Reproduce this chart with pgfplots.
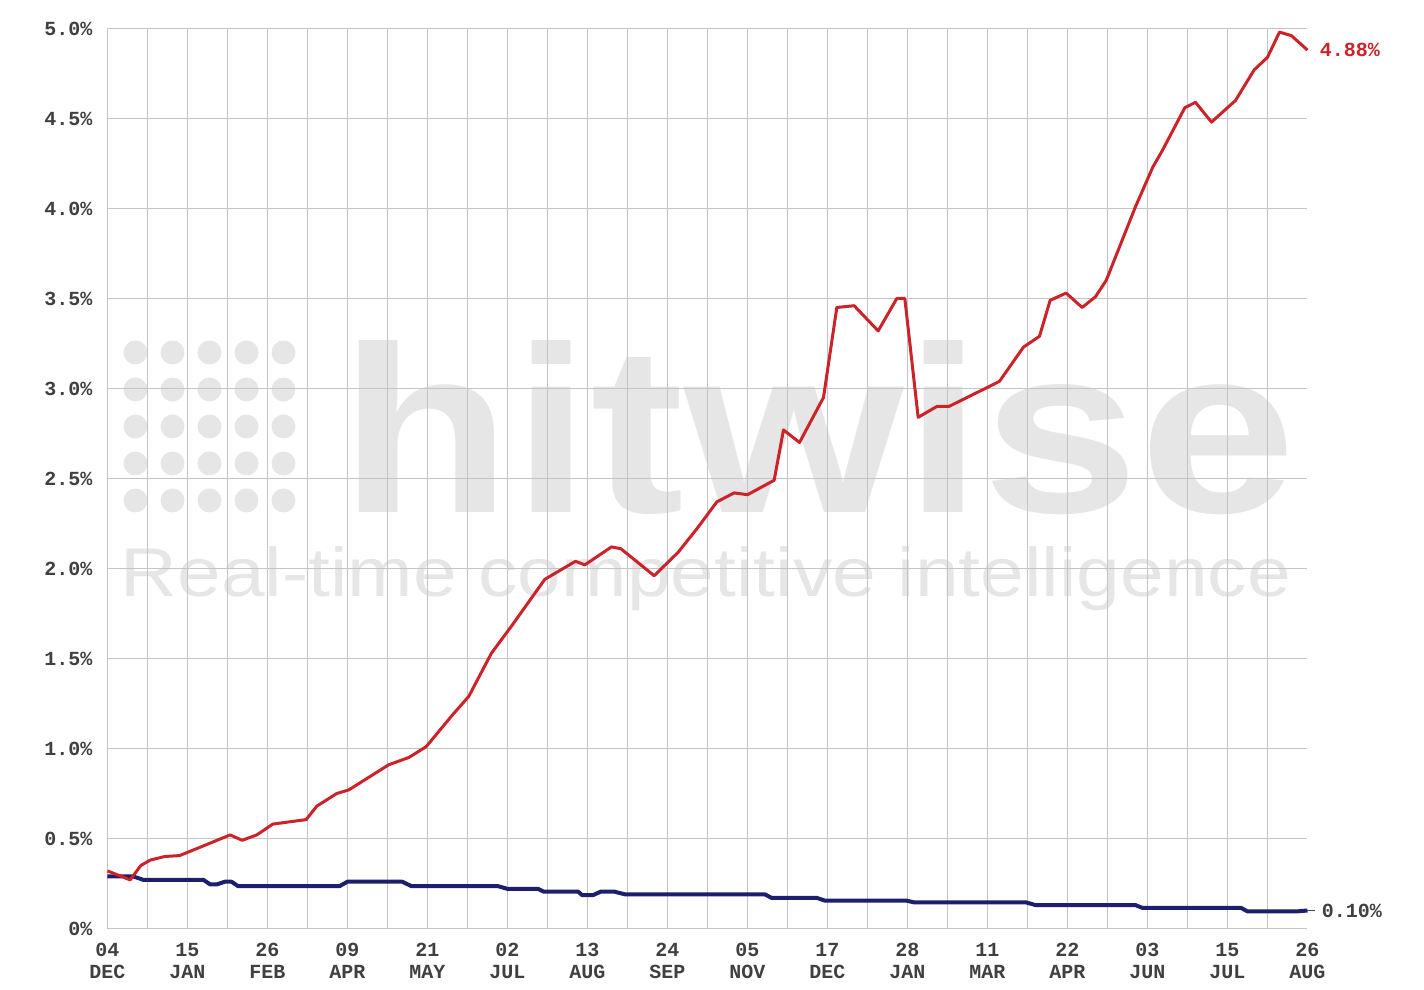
\documentclass[border=0pt]{standalone}
\usepackage{pgfplots}
\pgfplotsset{compat=1.18}
\usepackage{fontspec}
\setmonofont{Liberation Mono}
\newfontfamily\wmfont{Liberation Sans}
\definecolor{hwred}{HTML}{CC2229}
\definecolor{hwblue}{HTML}{1E1E6E}
\definecolor{hwgrid}{HTML}{C4C4C4}
\definecolor{hwmark}{HTML}{E6E6E6}
\begin{document}
\begin{tikzpicture}
% watermark (axis south west sits at 0,0)
\foreach \cx in {14,32.5,51,69.5,88}{
  \foreach \cy in {214,232.5,251,269.5,288}{
    \fill[hwmark] (\cx pt,\cy pt) circle (6pt);}}
\node[anchor=base west,inner sep=0,text=hwmark] at (116pt,208pt)
  {\resizebox{478pt}{86pt}{\wmfont\bfseries hitwise}};
\node[anchor=base west,inner sep=0,text=hwmark] at (6.5pt,166pt)
  {\resizebox{585pt}{25pt}{\wmfont Real-time competitive intelligence}};
\begin{axis}[
  scale only axis, width=600pt, height=450pt,
  xmin=0, xmax=90, ymin=0, ymax=5,
  axis line style={draw=none},
  major tick length=0pt, minor tick length=0pt,
  xtick={0,3,...,87},
  xticklabels={{04\\DEC},{},{15\\JAN},{},{26\\FEB},{},{09\\APR},{},{21\\MAY},{},{02\\JUL},{},{13\\AUG},{},{24\\SEP},{},{05\\NOV},{},{17\\DEC},{},{28\\JAN},{},{11\\MAR},{},{22\\APR},{},{03\\JUN},{},{15\\JUL},{}},
  extra x ticks={90},
  extra x tick labels={{26\\AUG}},
  extra x tick style={grid=none},
  xmajorgrids=true, ymajorgrids=true,
  ytick={0,0.5,1,1.5,2,2.5,3,3.5,4,4.5,5},
  yticklabels={0\%,0.5\%,1.0\%,1.5\%,2.0\%,2.5\%,3.0\%,3.5\%,4.0\%,4.5\%,5.0\%},
  grid style={hwgrid, line width=0.5pt},
  ticklabel style={font=\ttfamily\bfseries\fontsize{10}{11}\selectfont, text=black!75},
  xticklabel style={align=center, yshift=-4pt},
  yticklabel style={xshift=-4pt},
  clip=false,
]
% blue series
\addplot[hwblue, line width=2pt, line join=round] coordinates {
(0,0.29)(1.9,0.29)(2.7,0.27)(7.2,0.27)(7.7,0.245)(8.2,0.245)(8.8,0.26)(9.3,0.26)
(9.8,0.235)(17.4,0.235)(18,0.26)(22.1,0.26)(22.8,0.235)(29.3,0.235)(30,0.22)
(32.3,0.22)(32.7,0.205)(35.3,0.205)(35.6,0.185)(36.4,0.185)(37,0.205)(38,0.205)
(38.8,0.19)(49.3,0.19)(49.8,0.17)(53.2,0.17)(53.8,0.155)(59.9,0.155)(60.5,0.145)
(68.9,0.145)(69.6,0.13)(77.1,0.13)(77.6,0.115)(85,0.115)(85.5,0.095)(89.2,0.095)
(90,0.10)};
% red series
\addplot[hwred, line width=1.5pt, line join=round] coordinates {
(0,0.32)(1.7,0.27)(2.5,0.35)(3.2,0.38)(4.3,0.40)(5.4,0.405)(6.9,0.45)(9.2,0.52)
(10.1,0.49)(11.2,0.52)(12.4,0.58)(14.9,0.605)(15.7,0.68)(17.2,0.75)(18.1,0.77)
(19.6,0.84)(21.1,0.91)(22.6,0.95)(23.9,1.01)(25.8,1.18)(27.1,1.29)(28.8,1.53)
(30.3,1.68)(32.8,1.94)(35.1,2.04)(35.8,2.02)(37.8,2.12)(38.5,2.11)(41.0,1.96)
(42.8,2.09)(44.3,2.23)(45.7,2.37)(47.0,2.42)(48.0,2.41)(50.0,2.49)(50.7,2.77)
(51.9,2.70)(53.7,2.95)(54.7,3.45)(56.0,3.46)(57.8,3.32)(59.2,3.50)(59.8,3.50)
(60.8,2.84)(62.2,2.90)(63.1,2.90)(66.1,3.01)(66.9,3.04)(68.7,3.23)(69.9,3.29)
(70.7,3.49)(71.9,3.53)(73.1,3.45)(74.1,3.51)(74.9,3.60)(77.1,4.01)(78.4,4.23)
(79.1,4.32)(80.8,4.56)(81.6,4.59)(82.8,4.48)(84.6,4.60)(86.0,4.77)(87.0,4.84)
(87.9,4.98)(88.8,4.96)(90,4.88)};
% end labels
\node[anchor=west, inner sep=0, xshift=6pt, text=hwred,
  font=\ttfamily\bfseries\fontsize{10}{11}\selectfont] at (axis cs:90,4.88) {4.88\%};
\draw[black!70, line width=0.8pt] (axis cs:90,0.10) -- ++(4pt,0);
\node[anchor=west, inner sep=0, xshift=7pt, text=black!75,
  font=\ttfamily\bfseries\fontsize{10}{11}\selectfont] at (axis cs:90,0.10) {0.10\%};
\end{axis}
\pgfresetboundingbox
\path[use as bounding box] (-53.75pt,-30.75pt) rectangle (658.25pt,464.25pt);
\end{tikzpicture}
\end{document}
